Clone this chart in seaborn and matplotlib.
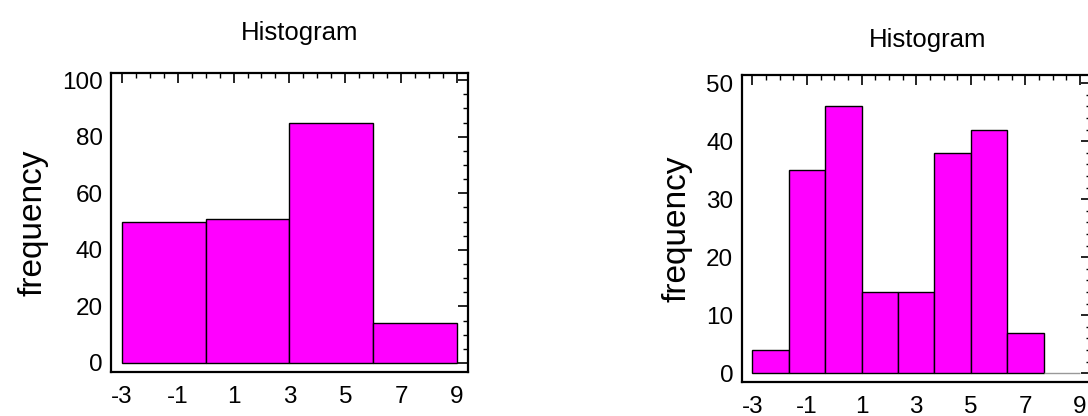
import matplotlib
matplotlib.use("Agg")
import matplotlib.pyplot as plt
import seaborn as sns
import numpy as np
import pandas as pd
from matplotlib.ticker import MultipleLocator

# left histogram: 4 classes
left_edges = [-3, 0, 3, 6, 9]
left_counts = [50, 51, 85, 14]

# right histogram: 9 classes
right_edges = [-3, -5/3, -1/3, 1, 7/3, 11/3, 5, 19/3, 23/3, 9]
right_counts = [4, 35, 46, 14, 14, 38, 42, 7, 0]

x_ticks = [-3, -1, 1, 3, 5, 7, 9]

sns.set_theme(style="white")
plt.rcParams['font.family'] = ['Liberation Sans', 'DejaVu Sans']
plt.rcParams['axes.unicode_minus'] = False
plt.rcParams['text.color'] = 'black'
plt.rcParams['axes.labelcolor'] = 'black'

fig = plt.figure(figsize=(10.88, 4.16), dpi=100)
ax1 = fig.add_axes([0.102, 0.1058, 0.328, 0.7187])
ax2 = fig.add_axes([0.6817, 0.0825, 0.3208, 0.7372])


def draw_hist(ax, edges, counts, ylim, ymajor, yminor, title_x, pad):
    e = np.asarray(edges)
    df = pd.DataFrame({"x": (e[:-1] + e[1:]) / 2, "n": counts})
    sns.histplot(data=df, x="x", weights="n", bins=list(edges), ax=ax,
                 color="#FF00FF", alpha=1, edgecolor="black", linewidth=1.0)
    for p, c in zip(ax.patches, counts):
        if c == 0:
            p.set_edgecolor("#999999")
    ax.set_xlim(-3.39, 9.39)
    ax.set_ylim(*ylim)
    ax.set_xticks(x_ticks)
    ax.xaxis.set_minor_locator(MultipleLocator(0.5))
    ax.yaxis.set_major_locator(MultipleLocator(ymajor))
    ax.yaxis.set_minor_locator(MultipleLocator(yminor))
    ax.tick_params(which="both", direction="in", top=True, right=True,
                   color="black", labelcolor="black", labelsize=17.5)
    ax.tick_params(axis="x", which="major", pad=10)
    ax.tick_params(axis="y", which="major", pad=6)
    ax.tick_params(which="major", length=7, width=1.2)
    ax.tick_params(which="minor", length=3.5, width=1.0)
    for s in ax.spines.values():
        s.set_color("black")
        s.set_linewidth(1.6)
    ax.set_xlabel("")
    ax.set_ylabel("frequency", fontsize=24, labelpad=10, color="black")
    ax.set_title("Histogram", fontsize=18.5, x=title_x, pad=pad, color="black")


draw_hist(ax1, left_edges, left_counts, (-3.2, 102.5), 20, 5, 0.529, 24)
draw_hist(ax2, right_edges, right_counts, (-1.45, 51.43), 10, 2, 0.534, 20)

plt.savefig("out.png", dpi=100)
plt.close()
